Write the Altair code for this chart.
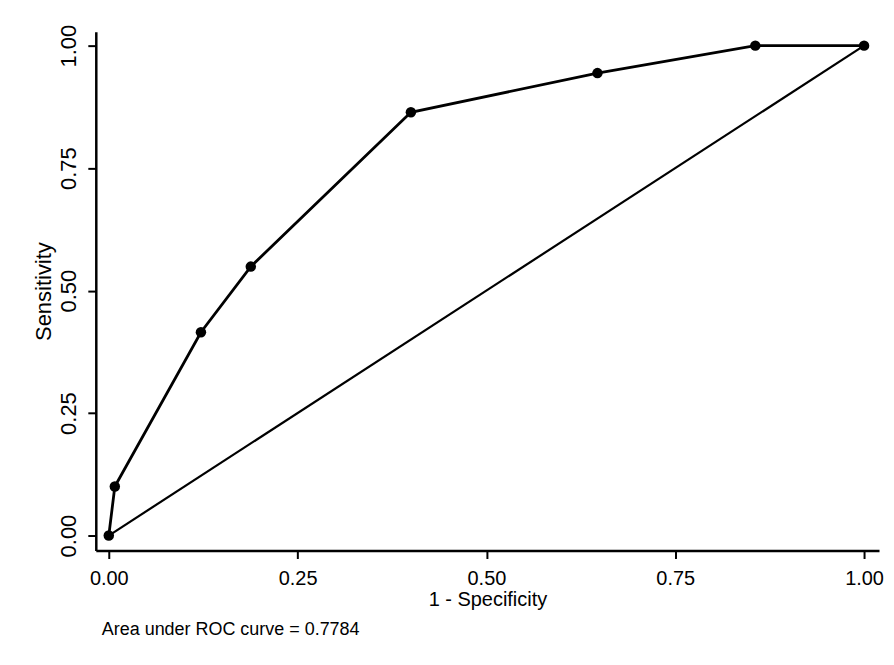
import altair as alt
import pandas as pd

# ROC curve points
fpr = [0.0, 0.008, 0.122, 0.188, 0.400, 0.647, 0.856, 1.0]
tpr = [0.0, 0.100, 0.415, 0.549, 0.864, 0.944, 1.0, 1.0]
diag_x = [0.0, 1.0]
diag_y = [0.0, 1.0]
tick_values = [0.0, 0.25, 0.5, 0.75, 1.0]
note = ["Area under ROC curve = 0.7784"]

FONT = "Liberation Sans"

roc = pd.DataFrame({"fpr": fpr, "tpr": tpr, "order": list(range(len(fpr)))})
diag = pd.DataFrame({"fpr": diag_x, "tpr": diag_y})
note_df = pd.DataFrame({"label": note})

xscale = alt.Scale(domain=[-0.0172, 1.0198], nice=False, zero=False)
yscale = alt.Scale(domain=[-0.0305, 1.0285], nice=False, zero=False)

xaxis = alt.Axis(
    values=tick_values, format=".2f", title="1 - Specificity",
    labelFontSize=20, titleFontSize=20, labelFont=FONT, titleFont=FONT,
    titleFontWeight="normal", labelColor="black", titleColor="black",
    tickSize=8, tickWidth=2, tickColor="black",
    domainWidth=2.5, domainColor="black", grid=False,
    labelPadding=10, titleY=55, titleBaseline="alphabetic",
)
yaxis = alt.Axis(
    values=tick_values, format=".2f", title="Sensitivity",
    labelFontSize=22, titleFontSize=22, labelFont=FONT, titleFont=FONT,
    titleFontWeight="normal", labelColor="black", titleColor="black",
    tickSize=8, tickWidth=2, tickColor="black",
    domainWidth=2.5, domainColor="black", grid=False,
    labelAngle=270, labelAlign="center", labelBaseline="bottom", labelPadding=7,
    titleAngle=270, titleAlign="center", titleBaseline="alphabetic",
    titleX=-45, titleY=260,
)

diag_line = alt.Chart(diag).mark_line(color="black", strokeWidth=2.2).encode(
    x=alt.X("fpr:Q", scale=xscale, axis=xaxis),
    y=alt.Y("tpr:Q", scale=yscale, axis=yaxis),
)

roc_line = alt.Chart(roc).mark_line(color="black", strokeWidth=2.8).encode(
    x=alt.X("fpr:Q", scale=xscale),
    y=alt.Y("tpr:Q", scale=yscale),
    order="order:Q",
)

roc_pts = alt.Chart(roc).mark_circle(color="black", size=110, opacity=1).encode(
    x=alt.X("fpr:Q", scale=xscale),
    y=alt.Y("tpr:Q", scale=yscale),
)

note_text = alt.Chart(note_df).mark_text(
    align="left", baseline="alphabetic", font=FONT, fontSize=18, color="black"
).encode(
    text="label:N",
    x=alt.value(6),
    y=alt.value(605),
)

chart = alt.layer(diag_line, roc_line, roc_pts, note_text).properties(
    width=785,
    height=520,
    autosize=alt.AutoSizeParams(type="none"),
    padding={"left": 88, "top": 23, "right": 7, "bottom": 100},
    background="white",
).configure_view(stroke=None)

chart.save("out.html", embed_options={"renderer": "svg", "actions": False})
